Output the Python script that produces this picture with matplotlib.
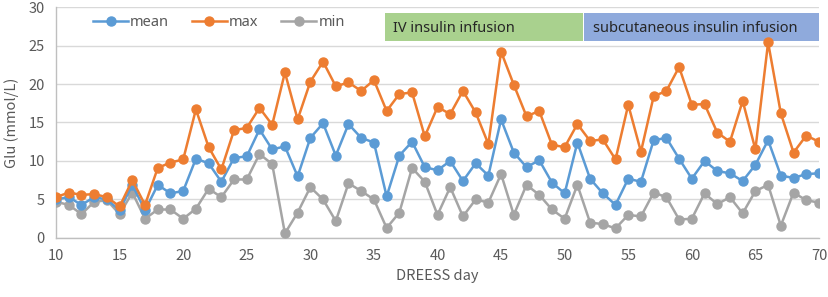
import numpy as np
import matplotlib
matplotlib.use("Agg")
import matplotlib.pyplot as plt
from matplotlib.patches import Rectangle

days = list(range(10, 71))

glu_mean = [5.0, 5.3, 4.3, 5.3, 5.0, 3.6, 6.9, 3.6, 6.9, 5.8,
            6.1, 10.3, 9.7, 7.3, 10.4, 10.6, 14.1, 11.5, 11.9, 8.0,
            13.0, 14.9, 10.7, 14.8, 13.0, 12.4, 5.4, 10.7, 12.5, 9.2,
            8.8, 10.0, 7.4, 9.7, 8.1, 15.4, 11.1, 9.2, 10.1, 7.2,
            5.8, 12.4, 7.7, 5.8, 4.3, 7.7, 7.3, 12.7, 13.0, 10.3,
            7.7, 10.0, 8.7, 8.4, 7.4, 9.5, 12.7, 8.1, 7.8, 8.3,
            8.4]
glu_max = [5.3, 5.9, 5.6, 5.7, 5.3, 4.1, 7.5, 4.3, 9.1, 9.8,
           10.2, 16.7, 11.8, 8.9, 14.0, 14.3, 16.9, 14.7, 21.5, 15.4,
           20.3, 22.9, 19.7, 20.2, 19.1, 20.5, 16.5, 18.7, 18.9, 13.2,
           17.0, 16.1, 19.1, 16.3, 12.2, 24.2, 19.9, 15.8, 16.5, 12.1,
           11.8, 14.8, 12.6, 12.8, 10.2, 17.3, 11.2, 18.4, 19.1, 22.2,
           17.3, 17.4, 13.7, 12.5, 17.8, 11.5, 25.4, 16.2, 11.1, 13.3,
           12.5]
glu_min = [4.7, 4.3, 3.1, 4.7, 4.9, 3.1, 5.9, 2.5, 3.7, 3.7,
           2.5, 3.8, 6.4, 5.3, 7.6, 7.6, 10.9, 9.6, 0.6, 3.3,
           6.6, 5.0, 2.2, 7.1, 6.1, 5.0, 1.3, 3.3, 9.1, 7.3,
           3.0, 6.6, 2.8, 5.0, 4.6, 8.3, 3.0, 6.9, 5.6, 3.7,
           2.5, 6.9, 2.0, 1.8, 1.25, 3.0, 2.8, 5.9, 5.3, 2.4,
           2.5, 5.8, 4.4, 5.3, 3.2, 6.1, 6.9, 1.6, 5.9, 4.9,
           4.6]

phases = ["IV insulin infusion", "subcutaneous insulin infusion"]
phase_start = [35.85, 51.55]
phase_end = [51.45, 70.0]
phase_colors = ["#a9d18e", "#8faadc"]

txt = "#595959"
fig = plt.figure(figsize=(8.29, 2.97), dpi=100)
ax = fig.add_axes([0.0676, 0.1987, 0.9203, 0.7777])

ax.plot(days, glu_mean, color="#5b9bd5", lw=1.8, marker="o", ms=6.5, label="mean", zorder=4)
ax.plot(days, glu_max, color="#ed7d31", lw=1.8, marker="o", ms=6.5, label="max", zorder=4)
ax.plot(days, glu_min, color="#a5a5a5", lw=1.8, marker="o", ms=6.5, label="min", zorder=3)

# treatment phase boxes
for name, s, e, c in zip(phases, phase_start, phase_end, phase_colors):
    ax.add_patch(Rectangle((s, 25.55), e - s, 3.7, facecolor=c, edgecolor="none", zorder=2))
    ax.text(s + 0.65, 27.2, name, ha="left", va="center",
            fontsize=10.5, color="#262626", family="Noto Sans", zorder=5)

ax.set_xlim(10, 70)
ax.set_ylim(0, 30)
ax.set_xticks(range(10, 71, 5))
ax.set_yticks(range(0, 31, 5))
ax.yaxis.grid(True, color="#d9d9d9", lw=1.0)
ax.set_axisbelow(True)
for side in ["top", "right"]:
    ax.spines[side].set_visible(False)
for side in ["left", "bottom"]:
    ax.spines[side].set_color("#bfbfbf")
    ax.spines[side].set_linewidth(1.0)
ax.tick_params(length=0, labelsize=10.5, labelcolor=txt, pad=8)
for lab in ax.get_xticklabels() + ax.get_yticklabels():
    lab.set_family("Noto Sans CJK SC")

ax.set_xlabel("DREESS day", fontsize=10.5, color=txt, family="Noto Sans CJK SC", labelpad=4)
ax.set_ylabel("Glu (mmol/L)", fontsize=10.5, color=txt, family="Noto Sans CJK SC", labelpad=7)

leg = ax.legend(loc="center left", bbox_to_anchor=(37 / 763, 0.931), ncol=3, frameon=False,
                fontsize=10.5, handlelength=2.4, handletextpad=0.15, columnspacing=1.55,
                borderaxespad=0, borderpad=0)
for t in leg.get_texts():
    t.set_color(txt)
    t.set_family("Noto Sans")

fig.savefig("out.png", dpi=100)
